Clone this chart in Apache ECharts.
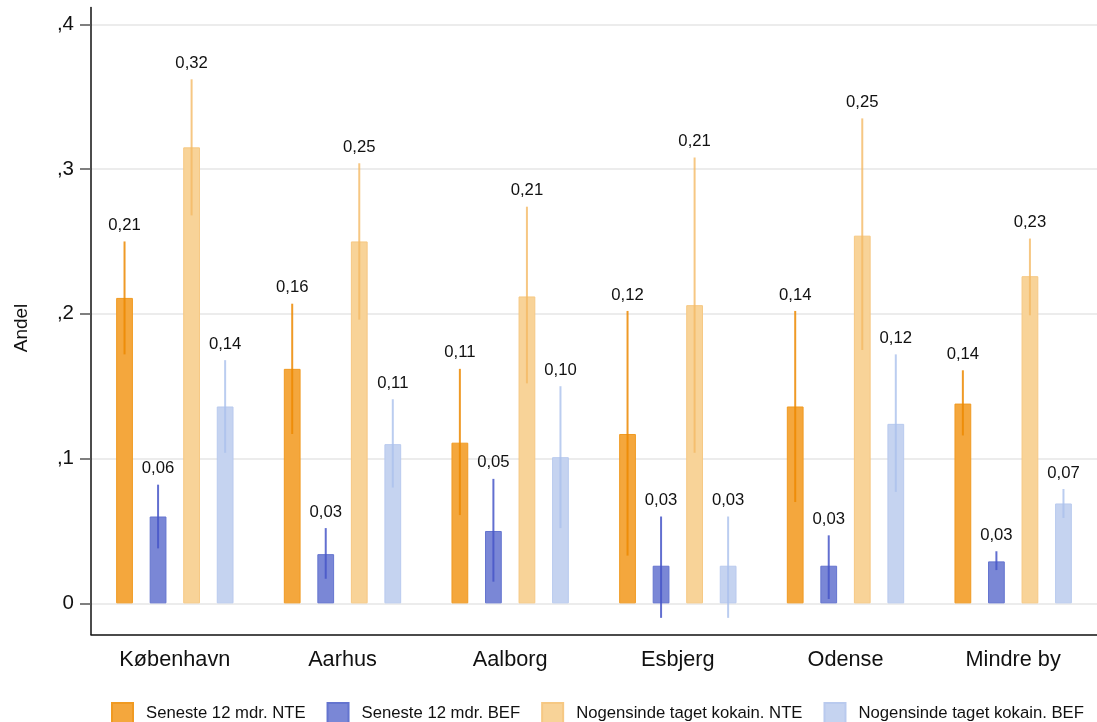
<!DOCTYPE html>
<html>
<head>
<meta charset="utf-8">
<script src="https://cdn.jsdelivr.net/npm/echarts@6/dist/echarts.min.js"></script>
<style>
html,body{margin:0;padding:0;background:#fff;}
#chart{width:1097px;height:722px;}
</style>
</head>
<body>
<div id="chart"></div>
<script>
const categories = ['København', 'Aarhus', 'Aalborg', 'Esbjerg', 'Odense', 'Mindre by'];
const seriesNames = ['Seneste 12 mdr. NTE', 'Seneste 12 mdr. BEF', 'Nogensinde taget kokain. NTE', 'Nogensinde taget kokain. BEF'];

const nte12   = [0.211, 0.162, 0.111, 0.117, 0.136, 0.138];
const nte12Lo = [0.172, 0.117, 0.061, 0.033, 0.070, 0.116];
const nte12Hi = [0.250, 0.207, 0.162, 0.202, 0.202, 0.161];

const bef12   = [0.060, 0.034, 0.050, 0.026, 0.026, 0.029];
const bef12Lo = [0.038, 0.017, 0.015, -0.010, 0.003, 0.023];
const bef12Hi = [0.082, 0.052, 0.086, 0.060, 0.047, 0.036];

const nteEver   = [0.315, 0.250, 0.212, 0.206, 0.254, 0.226];
const nteEverLo = [0.268, 0.196, 0.152, 0.104, 0.175, 0.199];
const nteEverHi = [0.362, 0.304, 0.274, 0.308, 0.335, 0.252];

const befEver   = [0.136, 0.110, 0.101, 0.026, 0.124, 0.069];
const befEverLo = [0.104, 0.080, 0.052, -0.010, 0.077, 0.059];
const befEverHi = [0.168, 0.141, 0.150, 0.060, 0.172, 0.079];

const yTicks = [0, 0.1, 0.2, 0.3, 0.4];

const values = [nte12, bef12, nteEver, befEver];
const lows = [nte12Lo, bef12Lo, nteEverLo, befEverLo];
const highs = [nte12Hi, bef12Hi, nteEverHi, befEverHi];

const fillColors = ['#F4A73D', '#7A87D6', '#F8D398', '#C5D3F0'];
const borderColors = ['#F09A22', '#6474CF', '#F6C883', '#B9CAEE'];
const lineColors = ['rgba(236,136,0,0.85)', 'rgba(70,86,200,0.85)', 'rgba(244,185,100,0.8)', 'rgba(170,192,236,0.8)'];

const fmt = v => v.toFixed(2).replace('.', ',');

const series = [];
for (let s = 0; s < 4; s++) {
  series.push({
    name: seriesNames[s],
    type: 'bar',
    barWidth: '10%',
    barGap: '100%',
    data: values[s],
    itemStyle: { color: fillColors[s], borderColor: borderColors[s], borderWidth: 1 },
    emphasis: { disabled: true },
    z: 2
  });
}
for (let s = 0; s < 4; s++) {
  const data = categories.map((c, i) => [i, lows[s][i], highs[s][i], values[s][i]]);
  series.push({
    type: 'custom',
    name: 'err' + s,
    z: 5,
    silent: true,
    encode: { x: 0, y: [1, 2] },
    data: data,
    renderItem: function (params, api) {
      const idx = api.value(0);
      const lo = api.coord([idx, api.value(1)]);
      const hi = api.coord([idx, api.value(2)]);
      const band = api.size([1, 0])[0];
      const x = lo[0] + (s - 1.5) * band * 0.2;
      return {
        type: 'group',
        children: [
          {
            type: 'line',
            shape: { x1: x, y1: lo[1], x2: x, y2: hi[1] },
            style: { stroke: lineColors[s], lineWidth: 2 }
          },
          {
            type: 'text',
            style: {
              text: fmt(api.value(3)),
              x: x,
              y: hi[1] - 16,
              textAlign: 'center',
              textVerticalAlign: 'middle',
              fill: '#111',
              font: '16.7px "Liberation Sans", Arial, sans-serif'
            }
          }
        ]
      };
    }
  });
}

const chart = echarts.init(document.getElementById('chart'), null, { renderer: 'canvas' });
chart.setOption({
  animation: false,
  backgroundColor: '#fff',
  textStyle: { fontFamily: '"Liberation Sans", Arial, sans-serif' },
  grid: { left: 91, top: 7.5, width: 1012, bottom: 87.5, containLabel: false },
  legend: {
    data: seriesNames,
    left: 106,
    top: 697,
    itemWidth: 21,
    itemHeight: 20,
    itemGap: 21,
    icon: 'rect',
    textStyle: { fontSize: 16.7, color: '#111', padding: [0, 0, 0, 8] },
    selectedMode: false
  },
  xAxis: {
    type: 'category',
    data: categories,
    axisLine: { onZero: false, lineStyle: { color: '#111', width: 1.5 } },
    axisTick: { alignWithLabel: true, length: 11, lineStyle: { color: '#555', width: 1.5 } },
    axisLabel: { fontSize: 21.7, color: '#111', margin: 15 },
    splitLine: { show: false }
  },
  yAxis: {
    type: 'value',
    min: -0.0215,
    max: 0.4116,
    name: 'Andel',
    nameLocation: 'middle',
    nameGap: 60,
    nameTextStyle: { fontSize: 19, color: '#111', padding: [0, 14, 0, 0] },
    axisLine: { show: true, lineStyle: { color: '#111', width: 1.5 } },
    axisTick: { show: true, length: 11, customValues: yTicks, lineStyle: { color: '#555', width: 1.5 } },
    axisLabel: {
      fontSize: 20.5, color: '#111', margin: 17, customValues: yTicks,
      formatter: v => (Math.abs(v) < 1e-9 ? '0' : ',' + Math.round(v * 10))
    },
    splitLine: { show: true, lineStyle: { color: '#e6e6e6', width: 1.5 } }
  },
  series: series
});
</script>
</body>
</html>
